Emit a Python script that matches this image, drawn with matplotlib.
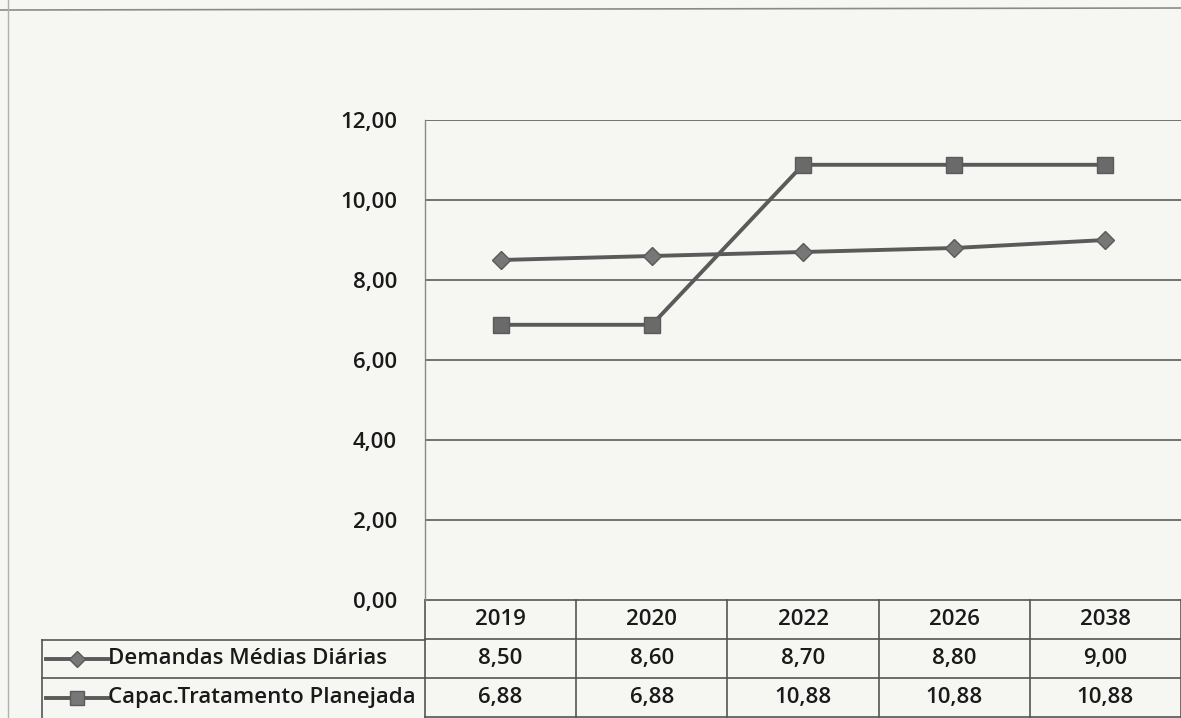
import matplotlib
matplotlib.use("Agg")
import matplotlib.pyplot as plt
from matplotlib.lines import Line2D
import matplotlib.transforms as mtransforms

# Chart data
years = ["2019", "2020", "2022", "2026", "2038"]
demanda = [8.50, 8.60, 8.70, 8.80, 9.00]
capacidade = [6.88, 6.88, 10.88, 10.88, 10.88]
series_names = ["Demandas Médias Diárias", "Capac.Tratamento Planejada"]
y_ticks = [0, 2, 4, 6, 8, 10, 12]

FONT = ["Open Sans", "DejaVu Sans"]
plt.rcParams["font.family"] = FONT
FS = 16
FW = "semibold"

W, H = 1181, 718
fig = plt.figure(figsize=(W / 100, H / 100), dpi=100, facecolor="#f6f6f3")


def fx(px):
    return px / W


def fy(py):
    return 1 - py / H


ax = fig.add_axes([fx(425), fy(600), fx(1181) - fx(425), fy(120) - fy(600)])
ax.set_facecolor("none")

line_col = "#5a5a5a"
grid_col = "#666666"
text_col = "#1a1a1a"

x = list(range(len(years)))
ax.plot(x, demanda, color=line_col, lw=2.8, marker="D", ms=9,
        mfc="#777777", mec=line_col, zorder=3)
ax.plot(x, capacidade, color=line_col, lw=2.8, marker="s", ms=12,
        mfc="#6a6a6a", mec=line_col, zorder=3)

ax.set_xlim(-0.5, len(years) - 0.5)
ax.set_ylim(0, 12)
ax.set_yticks(y_ticks)
ax.set_yticklabels([f"{v:.2f}".replace(".", ",") for v in y_ticks],
                   fontsize=FS, fontweight=FW, color=text_col)
ax.tick_params(axis="y", length=0, pad=20)
ax.set_xticks([])
for y in y_ticks[1:]:
    ax.axhline(y, color=grid_col, lw=1.3, zorder=1)
for s in ["top", "right", "bottom"]:
    ax.spines[s].set_visible(False)
ax.spines["left"].set_color("#888888")
ax.spines["left"].set_linewidth(1.0)

# Data table below the plot area
row_h = 39 / 480.0  # row height in axes units
trans = mtransforms.blended_transform_factory(ax.transData, ax.transAxes)
tbl_col = "#555555"

# horizontal table lines
for k in range(4):
    yy = -k * row_h
    ax.plot([-0.5, len(years) - 0.5], [yy, yy], transform=trans,
            color=tbl_col, lw=1.2, clip_on=False)
# vertical column dividers
for i in range(len(years) + 1):
    xv = i - 0.5
    ax.plot([xv, xv], [0, -3 * row_h], transform=trans,
            color=tbl_col, lw=1.2, clip_on=False)

# header and values
for i, yr in enumerate(years):
    ax.text(i, -0.5 * row_h, yr, transform=trans, ha="center", va="center",
            fontsize=FS, fontweight=FW, color=text_col, clip_on=False)
    ax.text(i, -1.5 * row_h, f"{demanda[i]:.2f}".replace(".", ","),
            transform=trans, ha="center", va="center", fontsize=FS,
            fontweight=FW, color=text_col, clip_on=False)
    ax.text(i, -2.5 * row_h, f"{capacidade[i]:.2f}".replace(".", ","),
            transform=trans, ha="center", va="center", fontsize=FS,
            fontweight=FW, color=text_col, clip_on=False)

# legend column of the table (figure coordinates)
for py in [640, 678]:
    fig.add_artist(Line2D([fx(42), fx(425)], [fy(py), fy(py)],
                          color=tbl_col, lw=1.2))
fig.add_artist(Line2D([fx(42), fx(42)], [fy(640), fy(718)],
                      color=tbl_col, lw=1.2))

for r, (name, mk, ms) in enumerate(zip(series_names, ["D", "s"], [8, 10])):
    yc = fy(659 + r * 39)
    fig.add_artist(Line2D([fx(46), fx(108)], [yc, yc], color=line_col,
                          lw=2.8))
    fig.add_artist(Line2D([fx(77)], [yc], marker=mk, ms=ms, mfc="#777777",
                          mec=line_col, lw=0))
    fig.text(fx(108), yc, name, ha="left", va="center", fontsize=FS,
             fontweight=FW, color=text_col)

# outer frame of the chart object
fig.add_artist(Line2D([fx(0), fx(1181)], [fy(10), fy(8)], color="#8a8a8a",
                      lw=1.2))
fig.add_artist(Line2D([fx(8), fx(8)], [fy(0), fy(718)], color="#b0b0b0",
                      lw=1.0))

fig.savefig("out.png", dpi=100, facecolor=fig.get_facecolor())
